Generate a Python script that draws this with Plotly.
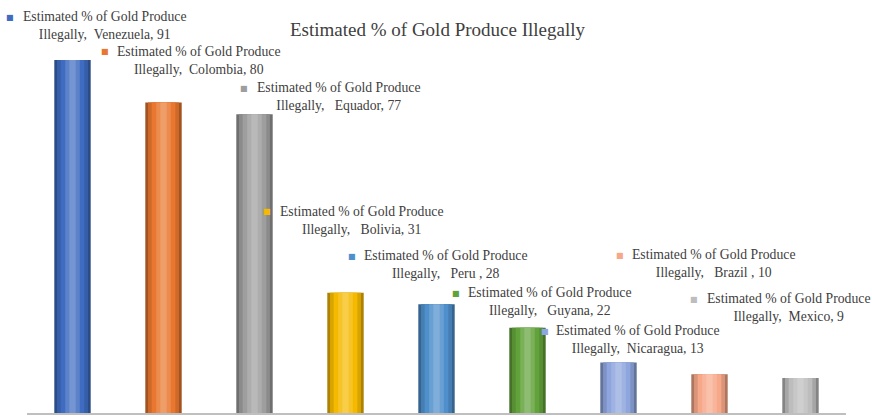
import plotly.graph_objects as go

# ---- data ----
countries = ["Venezuela", "Colombia", "Equador", "Bolivia", "Peru", "Guyana", "Nicaragua", "Brazil", "Mexico"]
values = [91, 80, 77, 31, 28, 22, 13, 10, 9]
series_name = "Estimated % of Gold Produce Illegally"
title_text = "Estimated % of Gold Produce Illegally"
colors = ["#3F6CC0", "#E9772F", "#9E9E9E", "#F5BA00", "#4F8FCB", "#62A23B", "#8EA6DD", "#F7A889", "#BDBDBD"]
label_country = ["Venezuela", "Colombia", "&nbsp;Equador", "&nbsp;Bolivia", "&nbsp;Peru ", "&nbsp;Guyana", "Nicaragua", "&nbsp;Brazil ", "Mexico"]

SERIF = "Liberation Serif"

# ---- layout helpers (pixel -> paper) ----
W, H = 872, 419
L, R, T, B = 27, 26, 25, 6
PW, PH = W - L - R, H - T - B

def px(x):
    return (x - L) / PW

def py(y):
    return (H - B - y) / PH

def mix(hexc, other, t):
    a = [int(hexc[i:i + 2], 16) for i in (1, 3, 5)]
    b = [int(other[i:i + 2], 16) for i in (1, 3, 5)]
    c = [round(a[k] + (b[k] - a[k]) * t) for k in range(3)]
    return "#%02x%02x%02x" % tuple(c)

fig = go.Figure()
# cylinder-like shading: stacked overlays of decreasing width
layers = [(0.40, "#000000", 0.30), (0.34, "#000000", 0.12), (0.26, None, 0.0), (0.16, "#FFFFFF", 0.15), (0.07, "#FFFFFF", 0.28)]
for w, tgt, t in layers:
    cols = [c if tgt is None else mix(c, tgt, t) for c in colors]
    fig.add_trace(go.Bar(
        x=countries, y=values, width=w,
        marker=dict(color=cols, line=dict(width=0)),
        name=series_name, showlegend=False,
    ))

# label positions (center of text block, marker square)
label_pos = [
    (104, 25, 10, 17), (198, 60, 105, 52), (338, 96, 244, 88),
    (361, 220, 267, 212), (446, 264, 352, 256), (549, 301, 456, 293),
    (637, 339, 545, 331), (713, 263, 620, 255), (788, 307, 694, 299),
]
ann = []
for i, (cx, cy, sx, sy) in enumerate(label_pos):
    ann.append(dict(
        x=px(cx), y=py(cy), xref="paper", yref="paper", xanchor="center", yanchor="middle",
        text="Estimated % of Gold Produce<br>Illegally,&nbsp;&nbsp;" + label_country[i] + ", " + str(values[i]),
        showarrow=False, align="center",
        font=dict(family=SERIF, size=13.7, color="#404040"),
    ))
    ann.append(dict(
        x=px(sx), y=py(sy), xref="paper", yref="paper", xanchor="center", yanchor="middle",
        text="■", showarrow=False,
        font=dict(family="DejaVu Sans", size=8, color=colors[i]),
    ))
ann.append(dict(
    x=px(437), y=py(30), xref="paper", yref="paper", xanchor="center", yanchor="middle",
    text=title_text, showarrow=False,
    font=dict(family=SERIF, size=19, color="#404040"),
))

fig.update_layout(
    width=W, height=H,
    margin=dict(l=L, r=R, t=T, b=B),
    barmode="overlay",
    paper_bgcolor="white", plot_bgcolor="white",
    showlegend=False,
    font=dict(family=SERIF),
    annotations=ann,
    xaxis=dict(showticklabels=False, ticks="", showgrid=False, zeroline=False,
               showline=True, linecolor="#BFBFBF", linewidth=2, range=[-0.5, 8.5]),
    yaxis=dict(range=[0, 100], visible=False, showgrid=False, zeroline=False),
)

fig.write_html("out.html", config={"displayModeBar": False},
               post_script="document.body.style.margin='0px';document.body.style.padding='0px';")
